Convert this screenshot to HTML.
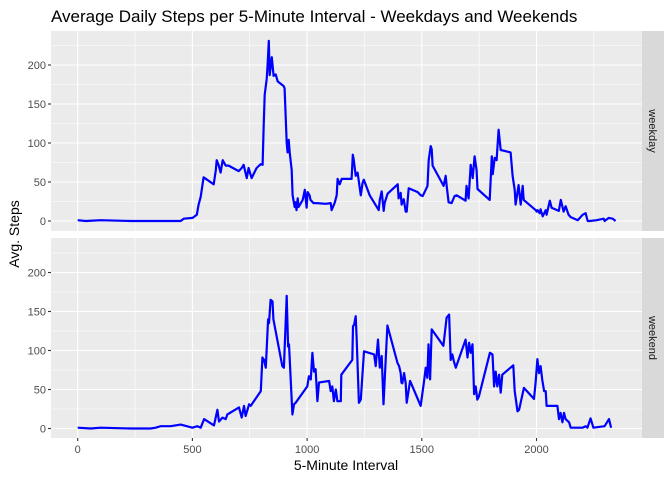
<!DOCTYPE html>
<html><head><meta charset="utf-8"><style>
body{margin:0;background:#fff;}
svg{display:block;font-family:"Liberation Sans",Arial,sans-serif;}
</style></head><body>
<svg id="chart" width="672" height="480" viewBox="0 0 672 480">
<text x="51" y="22" font-size="17" fill="#000">Average Daily Steps per 5-Minute Interval - Weekdays and Weekends</text>
<text x="346" y="470" font-size="14" text-anchor="middle" fill="#000">5-Minute Interval</text>
<text transform="translate(19,234) rotate(-90)" font-size="14" text-anchor="middle" fill="#000">Avg. Steps</text>
<g id="plots"></g>
</svg>
<script>
const xTicks=[0,500,1000,1500,2000];
const xMinor=[250,750,1250,1750,2250];
const yTicks=[0,50,100,150,200];
const yMinor=[25,75,125,175,225];
const facetNames=["weekday","weekend"];
const weekdayX=[0,35,100,231,318,405,449,462,501,519,527,536,549,593,602,606,615,623,632,645,658,702,715,723,737,745,758,780,798,806,811,815,824,828,833,837,846,854,863,872,898,902,911,915,920,924,933,937,946,950,954,959,963,981,990,998,1002,1011,1015,1028,1042,1081,1103,1107,1120,1129,1133,1142,1151,1194,1199,1203,1212,1220,1234,1242,1247,1273,1312,1317,1325,1334,1338,1351,1395,1399,1408,1412,1421,1430,1434,1443,1482,1495,1504,1517,1525,1530,1539,1543,1547,1595,1604,1608,1617,1630,1643,1652,1691,1695,1704,1713,1722,1730,1739,1743,1796,1805,1809,1818,1826,1835,1844,1887,1896,1905,1909,1922,1931,1940,1944,1996,2001,2005,2014,2018,2027,2040,2044,2058,2066,2097,2106,2118,2127,2140,2149,2180,2201,2214,2223,2232,2262,2293,2297,2315,2332,2345];
const weekdayY=[1,0,1,0,0,0,0,3,4,8,21,31,56,47,65,78,71,62,78,71,71,64,68,72,55,68,55,68,73,72,123,162,182,200,231,187,210,186,188,179,173,170,100,88,104,88,65,33,18,24,14,29,18,27,40,17,37,33,27,23,23,22,23,14,23,33,54,47,54,54,85,79,58,62,33,49,53,33,14,27,38,13,23,35,47,29,36,21,28,12,12,42,37,33,32,40,45,78,96,92,71,45,58,46,24,23,32,33,26,45,29,72,55,83,65,41,27,83,60,81,78,117,91,88,58,40,21,46,21,45,27,14,12,14,10,15,6,14,8,26,17,13,27,12,19,8,5,1,8,10,0,0,1,3,0,4,3,0];
const weekendX=[0,57,100,231,318,340,362,405,449,500,522,536,551,594,609,616,631,645,652,703,715,725,732,747,754,798,805,812,820,830,834,841,849,853,892,899,911,917,921,936,943,950,1001,1008,1016,1023,1030,1037,1045,1052,1096,1103,1110,1117,1125,1132,1147,1149,1197,1200,1205,1212,1216,1226,1234,1248,1292,1299,1309,1317,1325,1333,1350,1394,1401,1408,1411,1415,1423,1430,1434,1449,1495,1510,1517,1524,1529,1536,1543,1594,1608,1619,1626,1633,1640,1648,1691,1699,1706,1713,1721,1728,1735,1742,1749,1797,1808,1815,1822,1829,1837,1844,1851,1899,1905,1917,1924,1945,1989,1996,2004,2011,2018,2025,2033,2040,2044,2091,2098,2105,2113,2120,2127,2142,2149,2200,2214,2222,2236,2248,2297,2316,2325,2338];
const weekendY=[1,0,1,0,0,1,3,3,5,1,3,1,12,4,24,9,14,12,18,27,14,29,16,31,29,48,91,88,78,140,135,165,163,140,80,78,170,105,108,18,31,33,54,67,63,97,73,76,35,59,61,48,54,35,50,35,35,69,88,131,133,144,114,33,37,99,95,80,114,78,93,31,132,84,80,71,59,58,71,58,33,61,29,61,78,65,108,63,127,106,142,146,88,95,86,78,114,91,110,97,108,44,54,37,41,97,95,54,73,54,69,46,69,81,48,22,24,52,38,59,89,71,80,63,48,48,29,29,12,20,8,20,12,8,1,1,3,1,13,1,3,12,1];

const NS="http://www.w3.org/2000/svg";
const g=document.getElementById('plots');
const L=51,R=642,x0=77.7,xs=0.2294;
const xPos=v=>x0+v*xs;
const panels=[{top:31,bot:231,zero:221,xs:weekdayX,ys:weekdayY},{top:238,bot:438,zero:428.5,xs:weekendX,ys:weekendY}];
function mk(tag,attrs){const e=document.createElementNS(NS,tag);for(const k in attrs)e.setAttribute(k,attrs[k]);return e;}
panels.forEach((p,i)=>{
  const yPos=v=>p.zero-v*0.78;
  const pg=mk('g',{});
  
  
  g.appendChild(pg);
  const bg=mk('rect',{x:L,y:p.top,width:R-L,height:p.bot-p.top,fill:'#ebebeb'});
  
  
  pg.appendChild(bg);
  yMinor.forEach(v=>{const l=mk('line',{x1:L,x2:R,y1:yPos(v),y2:yPos(v),stroke:'#fff','stroke-width':0.55});
    
    
    pg.appendChild(l);});
  xMinor.forEach(v=>{const l=mk('line',{x1:xPos(v),x2:xPos(v),y1:p.top,y2:p.bot,stroke:'#fff','stroke-width':0.55});
    
    
    pg.appendChild(l);});
  yTicks.forEach(v=>{const y=yPos(v);
    const l=mk('line',{x1:L,x2:R,y1:y,y2:y,stroke:'#fff','stroke-width':1.1});
    
    
    pg.appendChild(l);
    const t=mk('line',{x1:L-3,x2:L,y1:y,y2:y,stroke:'#333','stroke-width':1.1});
    
    
    pg.appendChild(t);
    const tx=mk('text',{x:L-5,y:y+4,'font-size':11,'text-anchor':'end',fill:'#4d4d4d'});
    tx.textContent=v;
    
    
    pg.appendChild(tx);});
  xTicks.forEach(v=>{const x=xPos(v);
    const l=mk('line',{x1:x,x2:x,y1:p.top,y2:p.bot,stroke:'#fff','stroke-width':1.1});
    
    
    pg.appendChild(l);});
  let d='';
  p.xs.forEach((xv,j)=>{d+=(j?'L':'M')+xPos(xv).toFixed(1)+','+yPos(p.ys[j]).toFixed(1);});
  const path=mk('path',{d:d,fill:'none',stroke:'#0000ff','stroke-width':2.2,'stroke-linejoin':'round'});
  
  
  pg.appendChild(path);
  const st=mk('rect',{x:R,y:p.top,width:22,height:p.bot-p.top,fill:'#d9d9d9'});
  
  
  pg.appendChild(st);
  const cy=(p.top+p.bot)/2;
  const sl=mk('text',{transform:'translate('+(R+7)+','+cy+') rotate(90)','font-size':11,'text-anchor':'middle',fill:'#1a1a1a'});
  sl.textContent=facetNames[i];
  
  
  pg.appendChild(sl);
});
xTicks.forEach(v=>{const x=xPos(v);
  const t=mk('line',{x1:x,x2:x,y1:438,y2:441,stroke:'#333','stroke-width':1.1});
  
  
  g.appendChild(t);
  const tx=mk('text',{x:x,y:453,'font-size':11,'text-anchor':'middle',fill:'#4d4d4d'});
  tx.textContent=v;
  
  
  g.appendChild(tx);});
</script>
</body></html>
